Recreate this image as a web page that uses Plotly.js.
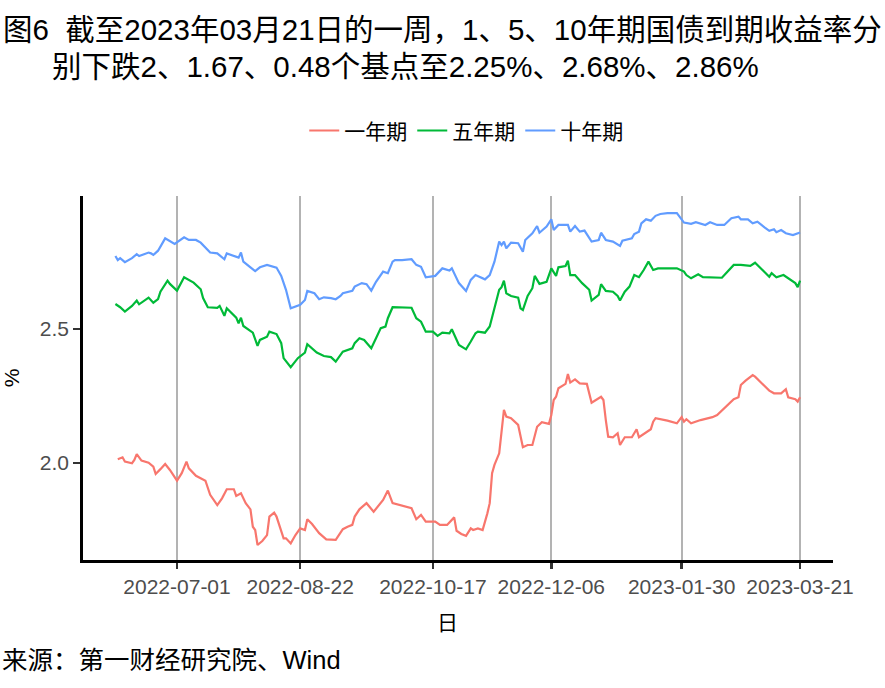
<!DOCTYPE html>
<html>
<head>
<meta charset="utf-8">
<script src="https://cdn.plot.ly/plotly-3.0.1.min.js"></script>
<style>html,body{margin:0;padding:0;background:#fff;}#chart{width:885px;height:688px;}</style>
</head>
<body>
<div id="chart"></div>
<script>
// ---- Data ----
const seriesNames = ['一年期', '五年期', '十年期'];
const seriesColors = ['#F8766D', '#00BA38', '#619CFF'];

const dates1y = ['2022-06-06','2022-06-08','2022-06-09','2022-06-12','2022-06-13','2022-06-14','2022-06-16','2022-06-19','2022-06-21','2022-06-22','2022-06-24','2022-06-26','2022-06-28','2022-07-01','2022-07-03','2022-07-05','2022-07-06','2022-07-09','2022-07-13','2022-07-15','2022-07-18','2022-07-20','2022-07-22','2022-07-25','2022-07-26','2022-07-28','2022-07-30','2022-08-01','2022-08-02','2022-08-03','2022-08-04','2022-08-06','2022-08-08','2022-08-09','2022-08-11','2022-08-12','2022-08-15','2022-08-16','2022-08-18','2022-08-20','2022-08-22','2022-08-24','2022-08-25','2022-08-27','2022-08-30','2022-09-02','2022-09-06','2022-09-09','2022-09-11','2022-09-13','2022-09-14','2022-09-16','2022-09-19','2022-09-22','2022-09-26','2022-09-28','2022-09-30','2022-10-03','2022-10-08','2022-10-10','2022-10-12','2022-10-14','2022-10-18','2022-10-20','2022-10-23','2022-10-26','2022-10-27','2022-10-29','2022-10-31','2022-11-02','2022-11-03','2022-11-05','2022-11-07','2022-11-09','2022-11-10','2022-11-11','2022-11-12','2022-11-14','2022-11-15','2022-11-16','2022-11-17','2022-11-19','2022-11-22','2022-11-24','2022-11-26','2022-11-28','2022-11-30','2022-12-02','2022-12-05','2022-12-06','2022-12-07','2022-12-08','2022-12-09','2022-12-12','2022-12-13','2022-12-14','2022-12-16','2022-12-18','2022-12-21','2022-12-22','2022-12-23','2022-12-27','2022-12-28','2022-12-29','2022-12-30','2023-01-01','2023-01-03','2023-01-04','2023-01-06','2023-01-09','2023-01-11','2023-01-12','2023-01-17','2023-01-18','2023-01-19','2023-01-24','2023-01-28','2023-01-30','2023-01-31','2023-02-01','2023-02-03','2023-02-07','2023-02-12','2023-02-14','2023-02-18','2023-02-21','2023-02-23','2023-02-24','2023-02-26','2023-03-01','2023-03-02','2023-03-05','2023-03-08','2023-03-10','2023-03-13','2023-03-15','2023-03-16','2023-03-19','2023-03-20','2023-03-21'];
const yield1y = [2.014,2.021,2.005,1.999,2.011,2.033,2.009,2.001,1.986,1.959,1.977,1.996,1.974,1.934,1.962,2.005,1.980,1.952,1.934,1.881,1.843,1.868,1.902,1.902,1.877,1.887,1.850,1.827,1.762,1.750,1.694,1.709,1.731,1.800,1.815,1.800,1.719,1.719,1.700,1.731,1.756,1.750,1.790,1.772,1.738,1.715,1.713,1.753,1.762,1.769,1.800,1.827,1.850,1.818,1.862,1.897,1.850,1.843,1.831,1.790,1.806,1.781,1.781,1.769,1.769,1.797,1.747,1.735,1.728,1.756,1.750,1.756,1.750,1.812,1.850,1.962,1.993,2.036,2.111,2.198,2.173,2.167,2.142,2.059,2.067,2.067,2.135,2.152,2.146,2.179,2.235,2.247,2.279,2.295,2.332,2.300,2.312,2.297,2.295,2.260,2.225,2.247,2.235,2.160,2.098,2.096,2.111,2.067,2.096,2.096,2.126,2.096,2.126,2.154,2.167,2.158,2.148,2.171,2.154,2.163,2.148,2.160,2.171,2.179,2.213,2.238,2.245,2.291,2.307,2.328,2.322,2.297,2.270,2.260,2.260,2.275,2.245,2.238,2.229,2.245];

const dates5y = ['2022-06-05','2022-06-07','2022-06-09','2022-06-12','2022-06-14','2022-06-15','2022-06-19','2022-06-21','2022-06-23','2022-06-24','2022-06-27','2022-06-28','2022-07-01','2022-07-04','2022-07-08','2022-07-11','2022-07-12','2022-07-14','2022-07-18','2022-07-19','2022-07-21','2022-07-22','2022-07-26','2022-07-27','2022-07-28','2022-07-29','2022-08-02','2022-08-04','2022-08-05','2022-08-08','2022-08-09','2022-08-12','2022-08-14','2022-08-15','2022-08-18','2022-08-21','2022-08-24','2022-08-25','2022-08-29','2022-09-01','2022-09-04','2022-09-06','2022-09-09','2022-09-13','2022-09-14','2022-09-16','2022-09-18','2022-09-21','2022-09-23','2022-09-25','2022-09-27','2022-09-28','2022-09-30','2022-10-03','2022-10-08','2022-10-10','2022-10-12','2022-10-14','2022-10-17','2022-10-19','2022-10-21','2022-10-24','2022-10-25','2022-10-28','2022-10-31','2022-11-02','2022-11-04','2022-11-05','2022-11-08','2022-11-10','2022-11-12','2022-11-14','2022-11-15','2022-11-16','2022-11-17','2022-11-19','2022-11-22','2022-11-23','2022-11-24','2022-11-26','2022-11-28','2022-11-29','2022-12-01','2022-12-04','2022-12-06','2022-12-08','2022-12-09','2022-12-12','2022-12-13','2022-12-14','2022-12-16','2022-12-19','2022-12-22','2022-12-23','2022-12-26','2022-12-27','2022-12-29','2023-01-01','2023-01-03','2023-01-04','2023-01-06','2023-01-08','2023-01-10','2023-01-12','2023-01-14','2023-01-16','2023-01-18','2023-01-20','2023-01-28','2023-01-31','2023-02-01','2023-02-03','2023-02-06','2023-02-08','2023-02-16','2023-02-19','2023-02-21','2023-02-24','2023-02-28','2023-03-02','2023-03-05','2023-03-08','2023-03-09','2023-03-11','2023-03-14','2023-03-16','2023-03-19','2023-03-20','2023-03-21'];
const yield5y = [2.593,2.581,2.565,2.586,2.606,2.592,2.617,2.598,2.611,2.639,2.680,2.668,2.643,2.693,2.673,2.648,2.615,2.581,2.579,2.586,2.549,2.577,2.542,2.521,2.542,2.511,2.486,2.437,2.459,2.471,2.490,2.481,2.447,2.391,2.357,2.391,2.412,2.443,2.412,2.399,2.395,2.378,2.415,2.428,2.447,2.465,2.459,2.428,2.465,2.503,2.509,2.540,2.581,2.581,2.579,2.540,2.527,2.490,2.490,2.474,2.486,2.484,2.499,2.440,2.424,2.453,2.484,2.490,2.486,2.509,2.583,2.646,2.656,2.680,2.633,2.623,2.617,2.577,2.571,2.623,2.652,2.698,2.668,2.676,2.726,2.698,2.730,2.735,2.755,2.701,2.701,2.671,2.646,2.606,2.627,2.667,2.642,2.639,2.623,2.606,2.639,2.658,2.701,2.693,2.720,2.751,2.720,2.726,2.726,2.714,2.701,2.689,2.704,2.693,2.691,2.720,2.739,2.739,2.735,2.747,2.720,2.695,2.708,2.693,2.701,2.689,2.671,2.656,2.680];

const dates10y = ['2022-06-05','2022-06-06','2022-06-07','2022-06-09','2022-06-12','2022-06-14','2022-06-15','2022-06-19','2022-06-20','2022-06-21','2022-06-23','2022-06-26','2022-06-30','2022-07-04','2022-07-06','2022-07-09','2022-07-11','2022-07-13','2022-07-15','2022-07-18','2022-07-21','2022-07-22','2022-07-25','2022-07-27','2022-07-28','2022-07-29','2022-08-01','2022-08-03','2022-08-05','2022-08-08','2022-08-12','2022-08-14','2022-08-16','2022-08-18','2022-08-22','2022-08-24','2022-08-25','2022-08-28','2022-08-30','2022-09-01','2022-09-04','2022-09-06','2022-09-08','2022-09-09','2022-09-13','2022-09-14','2022-09-17','2022-09-19','2022-09-21','2022-09-23','2022-09-26','2022-09-28','2022-09-30','2022-10-01','2022-10-04','2022-10-08','2022-10-10','2022-10-12','2022-10-14','2022-10-18','2022-10-21','2022-10-24','2022-10-25','2022-10-28','2022-10-31','2022-11-02','2022-11-04','2022-11-06','2022-11-08','2022-11-10','2022-11-12','2022-11-14','2022-11-15','2022-11-16','2022-11-17','2022-11-19','2022-11-22','2022-11-24','2022-11-25','2022-11-28','2022-11-30','2022-12-01','2022-12-04','2022-12-06','2022-12-07','2022-12-09','2022-12-13','2022-12-14','2022-12-16','2022-12-18','2022-12-20','2022-12-23','2022-12-26','2022-12-27','2022-12-29','2023-01-01','2023-01-04','2023-01-05','2023-01-09','2023-01-10','2023-01-12','2023-01-13','2023-01-15','2023-01-17','2023-01-19','2023-01-21','2023-01-24','2023-01-28','2023-01-31','2023-02-03','2023-02-05','2023-02-09','2023-02-11','2023-02-14','2023-02-17','2023-02-20','2023-02-23','2023-02-24','2023-02-27','2023-03-01','2023-03-03','2023-03-06','2023-03-08','2023-03-10','2023-03-11','2023-03-13','2023-03-15','2023-03-18','2023-03-21'];
const yield10y = [2.772,2.757,2.764,2.749,2.764,2.779,2.772,2.785,2.782,2.776,2.792,2.838,2.817,2.842,2.832,2.832,2.822,2.805,2.785,2.782,2.760,2.782,2.772,2.766,2.785,2.751,2.730,2.716,2.730,2.739,2.729,2.698,2.646,2.577,2.590,2.608,2.642,2.633,2.611,2.618,2.615,2.611,2.623,2.633,2.642,2.658,2.671,2.667,2.643,2.676,2.714,2.708,2.751,2.757,2.757,2.760,2.739,2.732,2.693,2.698,2.726,2.718,2.726,2.671,2.642,2.683,2.701,2.693,2.685,2.701,2.751,2.826,2.813,2.826,2.801,2.822,2.820,2.788,2.832,2.857,2.884,2.859,2.882,2.909,2.869,2.888,2.888,2.863,2.884,2.863,2.867,2.826,2.832,2.859,2.832,2.826,2.810,2.829,2.838,2.854,2.863,2.894,2.909,2.904,2.922,2.929,2.932,2.932,2.897,2.892,2.898,2.888,2.898,2.888,2.888,2.913,2.919,2.909,2.909,2.894,2.900,2.879,2.866,2.872,2.861,2.869,2.857,2.850,2.860];

const xTickVals = ['2022-07-01','2022-08-22','2022-10-17','2022-12-06','2023-01-30','2023-03-21'];
const xTickText = ['2022-07-01','2022-08-22','2022-10-17','2022-12-06','2023-01-30','2023-03-21'];
const yTickVals = [2.0, 2.5];
const yTickText = ['2.0', '2.5'];

const titleLine1 = '图6  截至2023年03月21日的一周，1、5、10年期国债到期收益率分';
const titleLine2 = '别下跌2、1.67、0.48个基点至2.25%、2.68%、2.86%';
const xAxisTitle = '日';
const yAxisTitle = '%';
const sourceText = '来源：第一财经研究院、Wind';

// ---- Chart ----
const FONT = '"Liberation Sans", Arial, "Noto Sans CJK SC", sans-serif';
const seriesDates = [dates1y, dates5y, dates10y];
const seriesVals = [yield1y, yield5y, yield10y];

const traces = seriesNames.map((name, i) => ({
  type: 'scatter', mode: 'lines', name: name,
  x: seriesDates[i], y: seriesVals[i],
  line: {color: seriesColors[i], width: 2.2},
  hoverinfo: 'skip'
}));

const layout = {
  width: 885, height: 688,
  margin: {l: 83, r: 52, t: 196, b: 128, pad: 0},
  paper_bgcolor: '#ffffff', plot_bgcolor: '#ffffff',
  font: {family: FONT, color: '#000000'},
  showlegend: true,
  title: {
    text: titleLine1, xref: 'container', x: 3/885, xanchor: 'left',
    yref: 'container', y: 1 - 30/688, yanchor: 'middle',
    font: {size: 29.5, color: '#000000', family: FONT}
  },
  legend: {
    orientation: 'h', x: 0.511, xanchor: 'center', y: 1.179, yanchor: 'middle',
    font: {size: 21, color: '#000000'}, bgcolor: 'rgba(0,0,0,0)', itemwidth: 30
  },
  xaxis: {
    type: 'date', range: ['2022-05-22 07:40', '2023-04-03 21:36'],
    tickmode: 'array', tickvals: xTickVals, ticktext: xTickText,
    showgrid: true, gridcolor: '#b3b3b3', gridwidth: 2, zeroline: false,
    showline: true, linecolor: '#000000', linewidth: 2.8,
    ticks: 'outside', ticklen: 6, tickwidth: 2.5, tickcolor: '#333333',
    tickfont: {size: 21, color: '#4d4d4d'},
    fixedrange: true
  },
  yaxis: {
    range: [1.638, 2.996],
    tickmode: 'array', tickvals: yTickVals, ticktext: yTickText,
    showgrid: false, zeroline: false,
    showline: true, linecolor: '#000000', linewidth: 2.8,
    ticks: 'outside', ticklen: 7, tickwidth: 2.5, tickcolor: '#333333',
    tickfont: {size: 21, color: '#4d4d4d'},
    title: {text: yAxisTitle, font: {size: 21, color: '#000000'}, standoff: 16},
    fixedrange: true
  },
  annotations: [
    {text: titleLine2, xref: 'paper', yref: 'paper', x: (50 - 83)/750, y: (560 - 67)/364,
     xanchor: 'left', yanchor: 'middle', showarrow: false, font: {size: 29.5, color: '#000000'}},
    {text: xAxisTitle, xref: 'paper', yref: 'paper', x: (447 - 83)/750, y: (560 - 622)/364,
     xanchor: 'center', yanchor: 'middle', showarrow: false, font: {size: 21, color: '#000000'}},
    {text: sourceText, xref: 'paper', yref: 'paper', x: (0 - 83)/750, y: (560 - 660)/364,
     xanchor: 'left', yanchor: 'middle', showarrow: false, font: {size: 25.5, color: '#000000'}}
  ]
};

Plotly.newPlot('chart', traces, layout, {displayModeBar: false, staticPlot: true});
</script>
</body>
</html>
